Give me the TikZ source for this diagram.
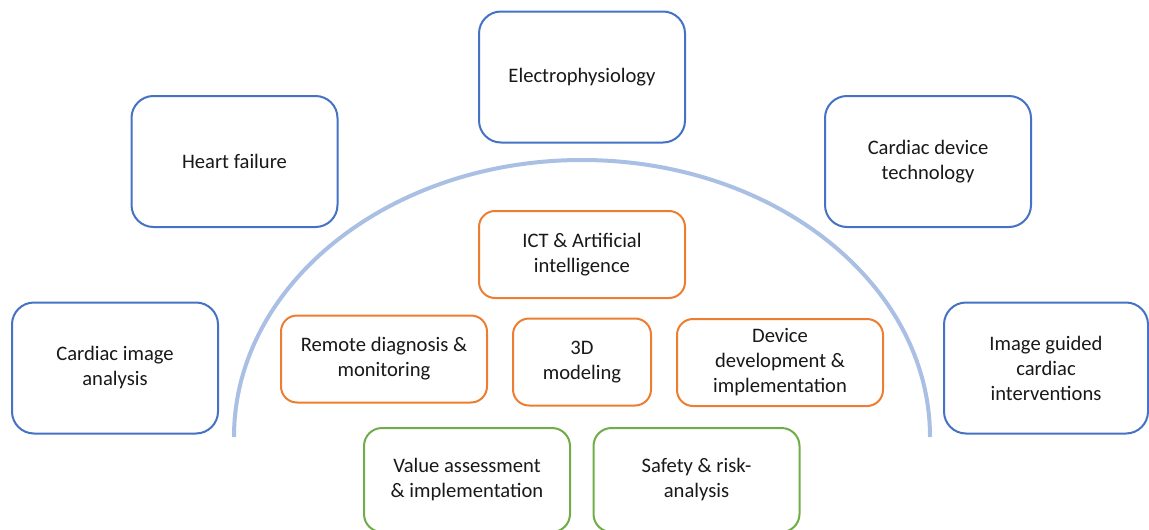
\documentclass[tikz,border=0pt]{standalone}
\usepackage{fontspec}
\setmainfont{Carlito}
\definecolor{bluebd}{HTML}{4472C4}
\definecolor{orangebd}{HTML}{ED7D31}
\definecolor{greenbd}{HTML}{70AD47}
\definecolor{arcblue}{HTML}{A9BFE3}
\begin{document}
\begin{tikzpicture}[x=1pt,y=-1pt,
  box/.style={draw, line width=2pt, fill=white, rounded corners=22pt, align=center,
    font=\fontsize{20.6}{25}\selectfont, text=black!90, inner sep=4pt},
  bluebox/.style={box, draw=bluebd, minimum width=206pt, minimum height=131pt},
  orangebox/.style={box, draw=orangebd, rounded corners=16pt, minimum height=87pt},
  greenbox/.style={box, draw=greenbd, rounded corners=18pt, minimum width=206pt, minimum height=104pt}]
\useasboundingbox (0,0) rectangle (1149,530);
% arc
\draw[arcblue, line width=4pt] (234,437) arc[start angle=180, end angle=0, x radius=348, y radius=-277];
% outer blue boxes
\node[bluebox] (ep) at (582,77) {Electrophysiology};
\node[bluebox] (hf) at (234.5,161.5) {Heart failure};
\node[bluebox] (cdt) at (928,161.5) {Cardiac device\\technology};
\node[bluebox] (cia) at (115,368) {Cardiac image\\analysis};
\node[bluebox, minimum width=204pt] (igc) at (1046,368) {Image guided\\cardiac\\interventions};
% orange boxes
\node[orangebox, minimum width=206pt] (ict) at (582,254.5) {ICT \& Artificial\\intelligence};
\node[orangebox, minimum width=206pt] (rdm) at (384,359) {Remote diagnosis \&\\monitoring};
\node[orangebox, minimum width=138pt] (tdm) at (582,362) {3D\\modeling};
\node[orangebox, minimum width=206pt] (ddi) at (780,362.5) {Device\\development \&\\implementation};
% green boxes
\node[greenbox] (vai) at (467,480) {Value assessment\\\& implementation};
\node[greenbox] (sra) at (696.5,480) {Safety \& risk-\\analysis};
\end{tikzpicture}
\end{document}
